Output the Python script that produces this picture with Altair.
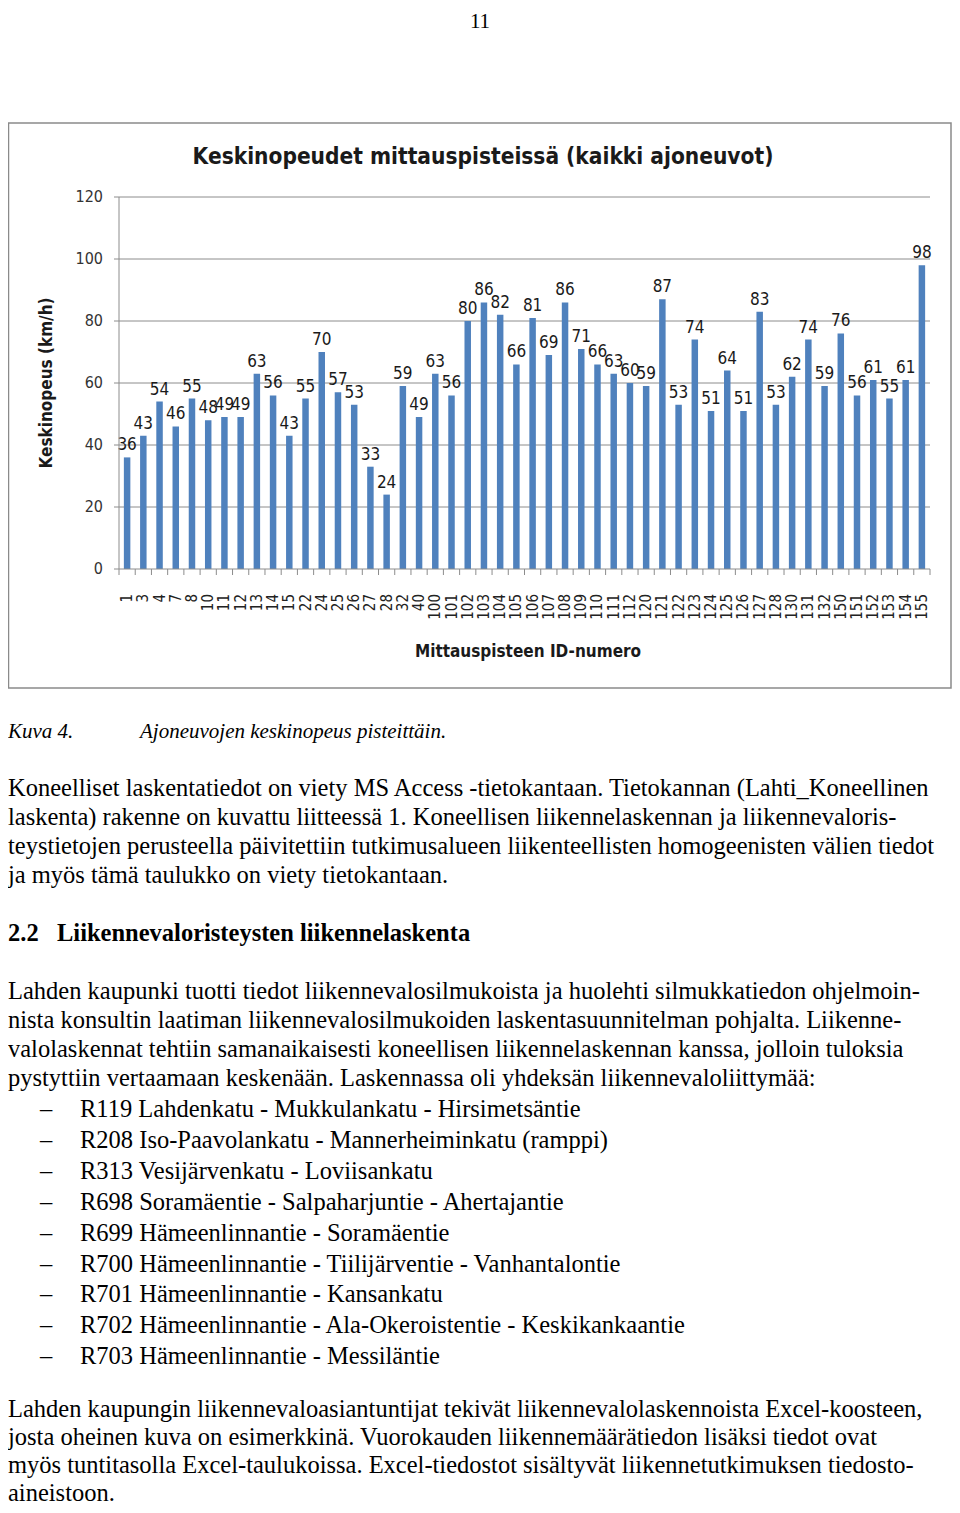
import altair as alt
import pandas as pd

# ---------------- data ----------------
ids = ["1", "3", "4", "7", "8", "10", "11", "12", "13", "14", "15", "22", "24", "25",
       "26", "27", "28", "32", "40", "100", "101", "102", "103", "104", "105", "106",
       "107", "108", "109", "110", "111", "112", "120", "121", "122", "123", "124",
       "125", "126", "127", "128", "130", "131", "132", "150", "151", "152", "153",
       "154", "155"]
speeds = [36, 43, 54, 46, 55, 48, 49, 49, 63, 56, 43, 55, 70, 57, 53, 33, 24, 59, 49,
          63, 56, 80, 86, 82, 66, 81, 69, 86, 71, 66, 63, 60, 59, 87, 53, 74, 51, 64,
          51, 83, 53, 62, 74, 59, 76, 56, 61, 55, 61, 98]
y_ticks = [0, 20, 40, 60, 80, 100, 120]

chart_title = "Keskinopeudet mittauspisteissä (kaikki ajoneuvot)"
y_title = "Keskinopeus (km/h)"
x_title = "Mittauspisteen ID-numero"

page_number = "11"
caption_label = "Kuva 4."
caption_text = "Ajoneuvojen keskinopeus pisteittäin."
para1 = [
    "Koneelliset laskentatiedot on viety MS Access -tietokantaan. Tietokannan (Lahti_Koneellinen",
    "laskenta) rakenne on kuvattu liitteessä 1. Koneellisen liikennelaskennan ja liikennevaloris-",
    "teystietojen perusteella päivitettiin tutkimusalueen liikenteellisten homogeenisten välien tiedot",
    "ja myös tämä taulukko on viety tietokantaan.",
]
heading = "2.2\u2002 Liikennevaloristeysten liikennelaskenta"
para2 = [
    "Lahden kaupunki tuotti tiedot liikennevalosilmukoista ja huolehti silmukkatiedon ohjelmoin-",
    "nista konsultin laatiman liikennevalosilmukoiden laskentasuunnitelman pohjalta. Liikenne-",
    "valolaskennat tehtiin samanaikaisesti koneellisen liikennelaskennan kanssa, jolloin tuloksia",
    "pystyttiin vertaamaan keskenään. Laskennassa oli yhdeksän liikennevaloliittymää:",
]
list_items = [
    "R119 Lahdenkatu - Mukkulankatu - Hirsimetsäntie",
    "R208 Iso-Paavolankatu - Mannerheiminkatu (ramppi)",
    "R313 Vesijärvenkatu - Loviisankatu",
    "R698 Soramäentie - Salpaharjuntie - Ahertajantie",
    "R699 Hämeenlinnantie - Soramäentie",
    "R700 Hämeenlinnantie - Tiilijärventie - Vanhantalontie",
    "R701 Hämeenlinnantie - Kansankatu",
    "R702 Hämeenlinnantie - Ala-Okeroistentie - Keskikankaantie",
    "R703 Hämeenlinnantie - Messiläntie",
]
para3 = [
    "Lahden kaupungin liikennevaloasiantuntijat tekivät liikennevalolaskennoista Excel-koosteen,",
    "josta oheinen kuva on esimerkkinä. Vuorokauden liikennemäärätiedon lisäksi tiedot ovat",
    "myös tuntitasolla Excel-taulukoissa. Excel-tiedostot sisältyvät liikennetutkimuksen tiedosto-",
    "aineistoon.",
]

# ---------------- layout / style ----------------
W, H = 944, 1497
SANS = "Liberation Sans Narrow, DejaVu Sans Condensed, Liberation Sans"
SERIF = "Liberation Serif"
BAR = "#4F81BD"
GRID = "#8c8c8c"
X0, X1 = 111, 922      # plot area left/right
Y0, YT = 561, 189      # pixel of 0 and of 120

# ---------------- chart ----------------
xenc = alt.X("id:N", sort=ids, axis=None,
             scale=alt.Scale(range=[X0, X1], paddingInner=0.6, paddingOuter=0.3))
yenc = alt.Y("v:Q", axis=None, scale=alt.Scale(domain=[0, 120], range=[Y0, YT]))

bars_df = pd.DataFrame({"id": ids, "v": speeds})
ticks_df = pd.DataFrame({"v": y_ticks})

grid = alt.Chart(ticks_df).transform_filter("datum.v > 0").mark_rule(
    color=GRID, strokeWidth=1).encode(y=yenc, x=alt.value(X0), x2=alt.value(X1))
ytickmarks = alt.Chart(ticks_df).mark_rule(color=GRID).encode(
    y=yenc, x=alt.value(X0 - 5), x2=alt.value(X0))
ylabels = alt.Chart(ticks_df).mark_text(
    align="right", baseline="middle", font=SANS, fontSize=16, color="#333333"
).encode(y=yenc, x=alt.value(X0 - 16), text="v:Q")
bars = alt.Chart(bars_df).mark_bar(color=BAR).encode(x=xenc, y=yenc)
vlabels = alt.Chart(bars_df).mark_text(
    baseline="alphabetic", dy=-7, font=SANS, fontSize=17, color="#1a1a1a"
).encode(x=xenc, y=yenc, text="v:Q")
xlabels = alt.Chart(bars_df).mark_text(
    angle=270, align="right", baseline="middle", font=SANS, fontSize=15, color="#222222"
).encode(x=xenc, y=alt.value(Y0 + 25), text="id:N")
plot = alt.layer(grid, ytickmarks, ylabels, bars, vlabels, xlabels)

bounds_df = pd.DataFrame({"b": list(range(len(ids) + 1))})
xtickmarks = alt.Chart(bounds_df).mark_rule(color=GRID).encode(
    x=alt.X("b:Q", axis=None, scale=alt.Scale(domain=[0, len(ids)], range=[X0, X1])),
    y=alt.value(Y0), y2=alt.value(Y0 + 6))

axis_df = pd.DataFrame({"a": [0]})
xaxis_line = alt.Chart(axis_df).mark_rule(color=GRID).encode(
    x=alt.value(X0), x2=alt.value(X1), y=alt.value(Y0))
yaxis_line = alt.Chart(axis_df).mark_rule(color=GRID).encode(
    x=alt.value(X0), y=alt.value(YT), y2=alt.value(Y0))
frame = alt.Chart(axis_df).mark_rect(filled=False, stroke="#8a8a8a", strokeWidth=1.5).encode(
    x=alt.value(0.5), x2=alt.value(W - 1), y=alt.value(115), y2=alt.value(680))

def label(txt, x, y, **kw):
    return alt.Chart(pd.DataFrame({"t": [txt]})).mark_text(**kw).encode(
        x=alt.value(x), y=alt.value(y), text="t:N")

title_mark = label(chart_title, 475, 149, font=SANS, fontSize=22.5, fontWeight="bold",
                   color="#1a1a1a", baseline="middle")
ytitle_mark = label(y_title, 39, 375, font=SANS, fontSize=17, fontWeight="bold",
                    angle=270, color="#1a1a1a", baseline="middle")
xtitle_mark = label(x_title, 520, 644, font=SANS, fontSize=17, fontWeight="bold",
                    color="#1a1a1a", baseline="middle")

# ---------------- document text ----------------
FS = 24.5
LH = 29
rows = []
def add_lines(lines, x, y0, lh):
    for i, t in enumerate(lines):
        rows.append({"t": t, "x": x, "y": y0 + i * lh})

add_lines(para1, 0, 788, LH)
add_lines(para2, 0, 991, LH)
add_lines(list_items, 72, 1109, 30.9)
add_lines(para3, 0, 1409, 28)
body_df = pd.DataFrame(rows)
dash_df = pd.DataFrame({"t": ["\u2013"] * len(list_items),
                        "x": [32] * len(list_items),
                        "y": [1109 + i * 30.9 for i in range(len(list_items))]})

def text_layer(df, **kw):
    return alt.Chart(df).mark_text(align="left", baseline="alphabetic", font=SERIF,
                                   color="#000000", **kw).encode(
        x=alt.X("x:Q", scale=None, axis=None),
        y=alt.Y("y:Q", scale=None, axis=None),
        text="t:N")

body = text_layer(body_df, fontSize=FS)
dashes = text_layer(dash_df, fontSize=FS)
head = text_layer(pd.DataFrame({"t": [heading], "x": [0], "y": [933]}),
                  fontSize=FS, fontWeight="bold")
caption = text_layer(pd.DataFrame({"t": [caption_label, caption_text], "x": [0, 132],
                                   "y": [730, 730]}), fontSize=21, fontStyle="italic")
pnum = alt.Chart(pd.DataFrame({"t": [page_number]})).mark_text(
    font=SERIF, fontSize=21, baseline="alphabetic", align="center").encode(
    x=alt.value(472), y=alt.value(20), text="t:N")

chart = alt.layer(
    frame, title_mark, ytitle_mark, xtitle_mark, plot, xtickmarks, xaxis_line, yaxis_line,
    body, dashes, head, caption, pnum
).resolve_scale(x="independent", y="independent").properties(
    width=W, height=H, autosize=alt.AutoSizeParams(type="none"), padding=0
).configure_view(strokeWidth=0)

chart.save("out.html", embed_options={"renderer": "svg", "actions": False})
